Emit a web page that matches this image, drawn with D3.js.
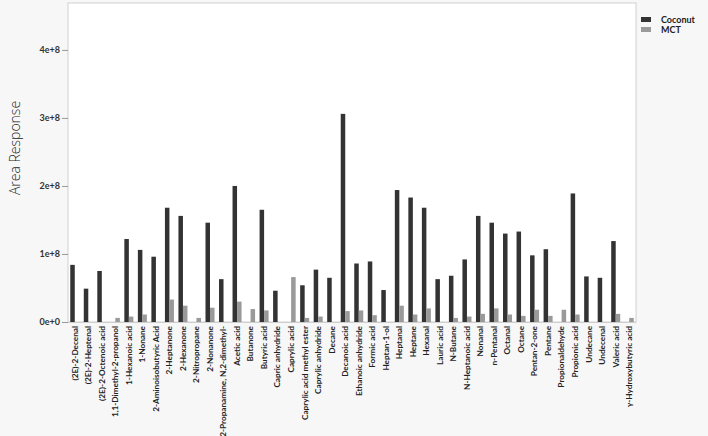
<!DOCTYPE html>
<html><head><meta charset="utf-8">
<script src="https://cdn.jsdelivr.net/npm/d3@7/dist/d3.min.js"></script>
<style>
html,body{margin:0;padding:0;background:#f7f7f7;}
svg{display:block;}
</style></head>
<body>
<svg id="c" width="708" height="436"></svg>
<script>
const categories = ["(2E)-2-Decenal","(2E)-2-Heptenal","(2E)-2-Octenoic acid","1,1-Dimethyl-2-propanol","1-Hexanoic acid","1-Nonane","2-Aminoisobutyric Acid","2-Heptanone","2-Hexanone","2-Nitropropane","2-Nonanone","2-Propanamine, N,2-dimethyl-","Acetic acid","Butanone","Butyric acid","Capric anhydride","Caprylic acid","Caprylic acid methyl ester","Caprylic anhydride","Decane","Decanoic acid","Ethanoic anhydride","Formic acid","Heptan-1-ol","Heptanal","Heptane","Hexanal","Lauric acid","N-Butane","N-Heptanoic acid","Nonanal","n-Pentanal","Octanal","Octane","Pentan-2-one","Pentane","Propionaldehyde","Propionic acid","Undecane","Undecenal","Valeric acid","γ-Hydroxybutyric acid"];
const coconut = [0.84,0.49,0.75,0,1.22,1.06,0.96,1.68,1.56,0,1.46,0.63,2.0,0,1.65,0.46,0,0.54,0.77,0.65,3.06,0.86,0.89,0.47,1.94,1.83,1.68,0.63,0.68,0.92,1.56,1.46,1.30,1.33,0.98,1.07,0,1.89,0.67,0.65,1.19,0].map(v=>v*1e8);
const mct = [0,0,0,0.06,0.08,0.11,0,0.33,0.24,0.06,0.21,0,0.30,0.19,0.17,0,0.66,0.06,0.08,0,0.16,0.17,0.10,0,0.24,0.11,0.20,0,0.06,0.08,0.12,0.20,0.11,0.09,0.18,0.09,0.18,0.11,0,0,0.12,0.06].map(v=>v*1e8);
const seriesNames = ["Coconut","MCT"];
const seriesColors = ["#333333","#9a9a9a"];
const yTicks = [0,1e8,2e8,3e8,4e8];
const yTickLabels = ["0e+0","1e+8","2e+8","3e+8","4e+8"];

const svg = d3.select("#c");
const L=68, R=636, T=3, B=322;
svg.append("rect").attr("x",L).attr("y",T).attr("width",R-L).attr("height",B-T)
  .attr("fill","#fff").attr("stroke","#d0d0d0").attr("stroke-width",1);

const x = d3.scaleBand().domain(categories).range([L,R]).paddingInner(0).paddingOuter(0);
const xs = d3.scaleBand().domain(seriesNames).range([0,x.bandwidth()]).paddingInner(0).paddingOuter(0.5);
const y = d3.scaleLinear().domain([0,4.69e8]).range([B,T]);

const data = [coconut, mct];
const g = svg.append("g");
data.forEach((arr,si)=>{
  g.selectAll(null).data(arr.map((v,i)=>({c:categories[i],v})).filter(d=>d.v>0)).join("rect")
   .attr("x",d=>x(d.c)+xs(seriesNames[si]))
   .attr("width",xs.bandwidth())
   .attr("y",d=>y(d.v))
   .attr("height",d=>B-y(d.v))
   .attr("fill",seriesColors[si]);
});

svg.append("line").attr("x1",L).attr("x2",R).attr("y1",B+0.5).attr("y2",B+0.5).attr("stroke","#cfcfcf");

const ya = d3.axisLeft(y).tickValues(yTicks).tickFormat((d,i)=>yTickLabels[i]).tickSize(6).tickPadding(2);
const yg = svg.append("g").attr("transform",`translate(${L},0)`).call(ya);
yg.select(".domain").remove();
yg.selectAll(".tick line").attr("stroke","#999");
yg.selectAll(".tick text").attr("fill","#333").style("font-family","Lato,'Open Sans',sans-serif").style("font-weight","700").style("font-size","9px");

const xa = d3.axisBottom(x).tickSize(0).tickPadding(0);
const xg = svg.append("g").attr("transform",`translate(0,${B})`).call(xa);
xg.select(".domain").remove();
xg.selectAll(".tick text")
  .attr("transform","rotate(-90)")
  .attr("text-anchor","end")
  .attr("x",-4).attr("y",0).attr("dy","0.35em")
  .attr("fill","#222")
  .style("font-family","Lato,'Open Sans',sans-serif").style("font-weight","700").style("font-size","8.2px");

svg.append("text").attr("transform","translate(20,148) rotate(-90)")
  .attr("text-anchor","middle").attr("fill","#222")
  .style("font-family","'Open Sans',Lato,sans-serif").style("font-weight","300").style("font-size","14px")
  .text("Area Response");

const lg = svg.append("g");
seriesNames.forEach((n,i)=>{
  lg.append("rect").attr("x",641).attr("y",17+i*10).attr("width",10).attr("height",5).attr("fill",seriesColors[i]);
  lg.append("text").attr("x",661).attr("y",22.5+i*10).attr("fill","#222")
    .style("font-family","Lato,'Open Sans',sans-serif").style("font-weight","700").style("font-size","9px").text(n);
});
</script>
</body></html>
